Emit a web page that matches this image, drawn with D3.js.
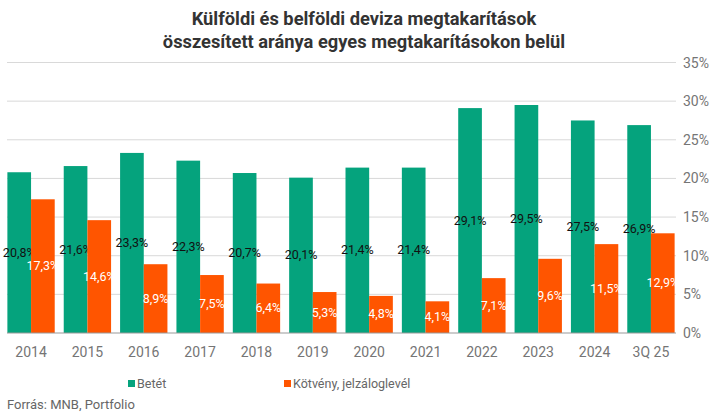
<!DOCTYPE html>
<html>
<head>
<meta charset="utf-8">
<script src="https://cdn.jsdelivr.net/npm/d3@7"></script>
<style>
  body { margin: 0; background: #fff; }
  svg { font-family: Roboto, sans-serif; }
</style>
</head>
<body>
<svg id="chart" width="718" height="417"></svg>
<script>
const years = ['2014', '2015', '2016', '2017', '2018', '2019', '2020', '2021', '2022', '2023', '2024', '3Q 25'];
const betet = [20.8, 21.6, 23.3, 22.3, 20.7, 20.1, 21.4, 21.4, 29.1, 29.5, 27.5, 26.9];
const kotveny = [17.3, 14.6, 8.9, 7.5, 6.4, 5.3, 4.8, 4.1, 7.1, 9.6, 11.5, 12.9];
const yTicks = [0, 5, 10, 15, 20, 25, 30, 35];
const seriesNames = ['Betét', 'Kötvény, jelzáloglevél'];
const colors = ['#05a37d', '#ff5500'];

const svg = d3.select('#chart');
const fmt = v => v.toFixed(1).replace('.', ',') + '%';

const x = d3.scaleBand().domain(years).range([4, 678]).paddingInner(0.16).paddingOuter(0.06);
const x1 = d3.scaleBand().domain([0, 1]).range([0, x.bandwidth()]);
const y = d3.scaleLinear().domain([0, 35]).range([333, 62.5]);

// title
svg.append('text')
  .attr('x', 364).attr('y', 25)
  .attr('text-anchor', 'middle')
  .attr('font-size', 18.3).attr('font-weight', 'bold').attr('fill', '#333')
  .selectAll('tspan')
  .data(['Külföldi és belföldi deviza megtakarítások', 'összesített aránya egyes megtakarításokon belül'])
  .join('tspan')
  .attr('x', 364).attr('dy', (d, i) => i ? 23 : 0)
  .text(d => d);

// gridlines
svg.append('g').selectAll('line')
  .data(yTicks.filter(t => t > 0))
  .join('line')
  .attr('x1', 7).attr('x2', 676)
  .attr('y1', d => y(d)).attr('y2', d => y(d))
  .attr('stroke', '#d9d9d9').attr('stroke-width', 1);

// right axis labels
svg.append('g').selectAll('text')
  .data(yTicks)
  .join('text')
  .attr('x', 683).attr('y', d => y(d) + 5)
  .attr('font-size', 14).attr('fill', '#757575')
  .text(d => d + '%');

const series = [betet, kotveny];
const groups = svg.append('g').selectAll('g')
  .data(years)
  .join('g')
  .attr('transform', d => `translate(${x(d)},0)`);

series.forEach((vals, s) => {
  groups.append('rect')
    .attr('x', x1(s)).attr('width', x1.bandwidth())
    .attr('y', (d, i) => y(vals[i]))
    .attr('height', (d, i) => y(0) - y(vals[i]))
    .attr('fill', colors[s]);
  groups.append('text')
    .attr('x', x1(s) + x1.bandwidth() / 2)
    .attr('y', (d, i) => (y(vals[i]) + y(0)) / 2 + 4)
    .attr('text-anchor', 'middle')
    .attr('font-size', 12.5)
    .attr('fill', s ? '#fff' : '#111')
    .text((d, i) => fmt(vals[i]));
});

// baseline
svg.append('line')
  .attr('x1', 7).attr('x2', 676)
  .attr('y1', y(0)).attr('y2', y(0))
  .attr('stroke', '#999').attr('stroke-width', 1);

// x labels
svg.append('g').selectAll('text')
  .data(years)
  .join('text')
  .attr('x', d => x(d) + x.bandwidth() / 2)
  .attr('y', 357)
  .attr('text-anchor', 'middle')
  .attr('font-size', 14).attr('fill', '#757575')
  .text(d => d);

// legend
const legX = [128, 284];
seriesNames.forEach((n, i) => {
  svg.append('rect').attr('x', legX[i]).attr('y', 380).attr('width', 7).attr('height', 7).attr('fill', colors[i]);
  svg.append('text').attr('x', legX[i] + 9).attr('y', 388)
    .attr('font-size', 12.5).attr('fill', '#666').text(n);
});

svg.append('text')
  .attr('x', 7).attr('y', 409)
  .attr('font-size', 13).attr('fill', '#666')
  .text('Forrás: MNB, Portfolio');
</script>
</body>
</html>
